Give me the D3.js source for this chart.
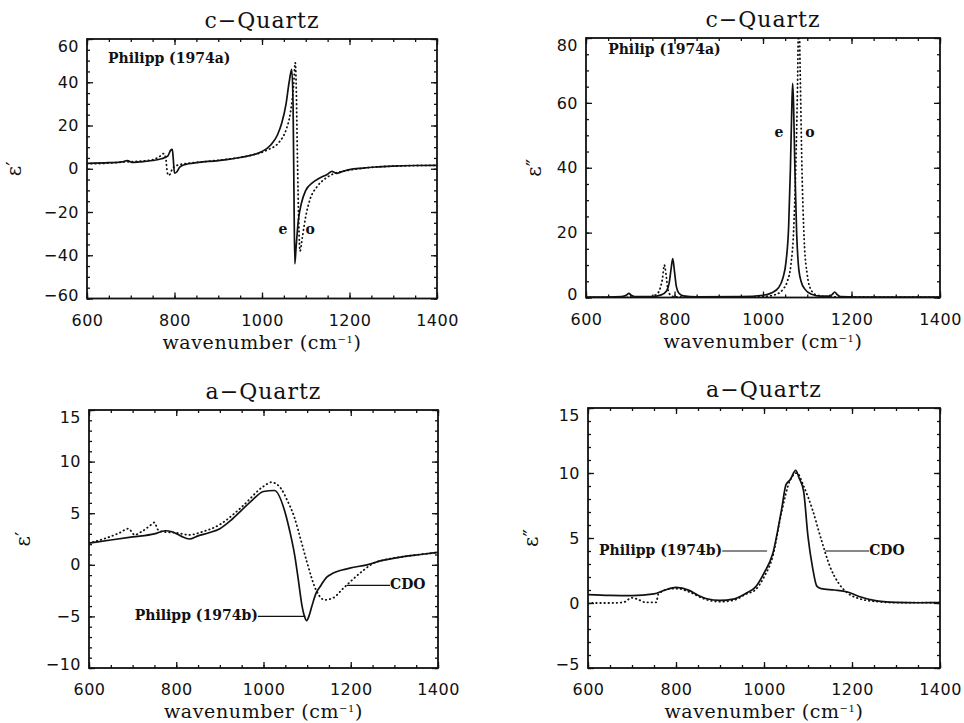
<!DOCTYPE html>
<html lang="en">
<head>
  <meta charset="UTF-8">
  <title>Quartz dielectric function</title>
  <script src="https://cdn.jsdelivr.net/npm/d3@7"></script>
  <style>
    body { margin: 0; background: #fff; }
  </style>
</head>
<body>
<svg id="chart" width="964" height="723"></svg>
<script>
// ---- data: [wavenumber (cm-1), value] ----
// c-Quartz, eps' (Philipp 1974a), e and o rays
var cqReE = [[600,2.5],[650,2.8],[680,3.2],[692,3.8],[698,3.4],[702,2.9],[720,3.2],[750,3.8],[770,4.6],[785,6],[791,8.5],[795,9],[797,5],[800,-2],[805,-1.5],[812,0.8],[825,2],[850,2.8],[900,3.8],[950,5.2],[1000,8],[1020,11],[1035,15.5],[1045,21],[1055,30],[1062,40],[1068,46],[1071,30],[1073,-10],[1075,-44],[1078,-36],[1083,-24],[1090,-16],[1100,-10],[1115,-6.5],[1130,-4.5],[1150,-2.5],[1160,-1.2],[1165,-1.6],[1170,-2.1],[1185,-1.2],[1200,-0.4],[1230,0.3],[1260,0.8],[1300,1.2],[1350,1.5],[1400,1.6]];
var cqReO = [[600,2.3],[650,2.6],[690,3.2],[700,3.3],[740,3.8],[765,5.5],[775,7],[780,5],[783,-1],[786,-3],[790,-2.5],[795,0],[805,1.5],[830,2.5],[870,3.3],[920,4.4],[970,6],[1010,8.5],[1040,12.5],[1055,18],[1065,26],[1072,38],[1076,49],[1078,40],[1081,5],[1084,-25],[1087,-38],[1092,-32],[1100,-22],[1110,-14],[1125,-8.5],[1145,-4.5],[1165,-2.2],[1190,-1],[1220,0],[1260,0.8],[1300,1.2],[1400,1.6]];
// c-Quartz, eps''
var cqImE = [[600,0.1],[680,0.3],[692,0.8],[697,1.3],[702,0.7],[710,0.3],[750,0.3],[770,0.8],[782,2],[788,4.5],[792,8.5],[796,12],[800,8],[804,3.5],[810,1.3],[820,0.5],[850,0.2],[950,0.3],[1000,0.7],[1020,1.5],[1035,3],[1045,6],[1052,11],[1058,22],[1062,40],[1065,58],[1067,66],[1069,60],[1072,40],[1076,20],[1080,10],[1086,5],[1095,2.5],[1110,1],[1130,0.4],[1150,0.4],[1157,1],[1162,1.7],[1167,1],[1175,0.3],[1250,0.1],[1400,0.1]];
var cqImO = [[600,0],[740,0.1],[760,1],[768,3],[773,6],[777,10],[781,7],[785,2.5],[792,0.6],[800,0.2],[900,0.1],[1000,0.3],[1030,1],[1045,2.5],[1055,5],[1063,10],[1069,20],[1074,40],[1078,65],[1081,90],[1084,70],[1088,40],[1093,18],[1100,7],[1108,2.5],[1120,0.8],[1150,0.2],[1400,0.1]];
// a-Quartz, eps' : Philipp (1974b) solid, CDO dotted
var aqReP = [[600,2.1],[650,2.4],[700,2.7],[750,3.0],[775,3.3],[790,3.2],[810,2.8],[830,2.5],[850,2.8],[875,3.1],[900,3.5],[925,4.3],[950,5.3],[975,6.3],[1000,7.1],[1025,7.2],[1050,5.0],[1060,3.3],[1072,0.8],[1080,-1.5],[1088,-3.9],[1094,-5],[1099,-5.4],[1104,-5],[1111,-4],[1120,-2.8],[1130,-2.1],[1145,-1.2],[1160,-0.8],[1180,-0.5],[1200,-0.3],[1237,0],[1270,0.4],[1314,0.75],[1360,1.0],[1400,1.2]];
var aqReC = [[600,2.1],[640,2.6],[670,3.1],[690,3.5],[705,2.9],[720,3.2],[740,3.8],[750,4.1],[758,3.4],[770,3.2],[800,3.1],[830,2.9],[860,3.2],[900,3.9],[950,5.6],[1000,7.6],[1018,8.0],[1040,7.4],[1055,6.2],[1070,4.7],[1085,2.5],[1100,0.2],[1120,-2.4],[1140,-3.4],[1160,-3.2],[1180,-2.4],[1200,-1.6],[1230,-0.5],[1250,0.1],[1280,0.5],[1314,0.75],[1360,1.0],[1400,1.2]];
// a-Quartz, eps''
var aqImP = [[600,0.64],[650,0.58],[700,0.56],[750,0.7],[775,1.0],[800,1.2],[830,0.97],[850,0.6],[870,0.33],[900,0.2],[930,0.3],[960,0.77],[980,1.2],[1000,2.3],[1020,3.8],[1040,7.2],[1050,9.1],[1060,9.5],[1072,10.2],[1080,9.6],[1090,8.6],[1100,5.1],[1110,2.8],[1120,1.3],[1130,1.1],[1160,1.0],[1190,0.85],[1220,0.46],[1250,0.2],[1300,0.05],[1350,0.02],[1400,0.03]];
var aqImC = [[600,0],[650,0],[680,0.05],[700,0.4],[715,0.25],[730,0.05],[755,0.05],[760,0.7],[790,1.1],[805,1.1],[830,0.85],[870,0.25],[900,0.1],[930,0.2],[960,0.7],[980,1.0],[1000,2.0],[1020,3.6],[1040,7.0],[1060,9.5],[1075,10.0],[1090,9.0],[1110,7.2],[1130,4.9],[1150,2.8],[1170,1.5],[1190,0.77],[1220,0.3],[1260,0.1],[1300,0.03],[1400,0.02]];

// tick values
var xTicks = [600, 800, 1000, 1200, 1400];
var yTicksCqRe = [-60, -40, -20, 0, 20, 40, 60];
var yTicksCqIm = [0, 20, 40, 60, 80];
var yTicksAqRe = [-10, -5, 0, 5, 10, 15];
var yTicksAqIm = [-5, 0, 5, 10, 15];

// panel layout
var panels = [
  { left: 87, right: 437, top: 39, bottom: 298.5, ydom: [-60, 60], yTicks: yTicksCqRe, yMinor: 5,
    title: 'c\u2212Quartz', ylab: '\u03b5\u2032', ylabX: 14,
    solid: cqReE, dotted: cqReO,
    notes: [{ t: 'Philipp (1974a)', x: 648, y: 49, anchor: 'start' },
            { t: 'e', x: 1048, y: -30, anchor: 'middle' },
            { t: 'o', x: 1110, y: -30, anchor: 'middle' }] },
  { left: 586, right: 940, top: 38, bottom: 297.5, ydom: [0, 80], yTicks: yTicksCqIm, yMinor: 5,
    title: 'c\u2212Quartz', ylab: '\u03b5\u2033', ylabX: 534,
    solid: cqImE, dotted: cqImO,
    notes: [{ t: 'Philip (1974a)', x: 650, y: 75, anchor: 'start' },
            { t: 'e', x: 1036, y: 49.5, anchor: 'middle' },
            { t: 'o', x: 1106, y: 49.5, anchor: 'middle' }] },
  { left: 89, right: 438, top: 410, bottom: 668, ydom: [-10, 15], yTicks: yTicksAqRe, yMinor: 1,
    title: 'a\u2212Quartz', ylab: '\u03b5\u2032', ylabX: 23,
    solid: aqReP, dotted: aqReC,
    notes: [{ t: 'Philipp (1974b)', x: 987, y: -5.35, anchor: 'end', line: [987, 1096, -5] },
            { t: 'CDO', x: 1290, y: -2.35, anchor: 'start', line: [1191, 1290, -2] }] },
  { left: 588, right: 940, top: 408, bottom: 668, ydom: [-5, 15], yTicks: yTicksAqIm, yMinor: 1,
    title: 'a\u2212Quartz', ylab: '\u03b5\u2033', ylabX: 531,
    solid: aqImP, dotted: aqImC,
    notes: [{ t: 'Philipp (1974b)', x: 905, y: 3.72, anchor: 'end', line: [905, 1007, 4] },
            { t: 'CDO', x: 1239, y: 3.72, anchor: 'start', line: [1139, 1239, 4] }] }
];

var svg = d3.select('#chart');
var serif = '"DejaVu Serif", serif';
var sans = '"DejaVu Sans", sans-serif';

panels.forEach(function(p, i) {
  var x = d3.scaleLinear().domain([600, 1400]).range([p.left, p.right]);
  var y = d3.scaleLinear().domain(p.ydom).range([p.bottom, p.top]);
  var g = svg.append('g');
  var w = p.right - p.left, h = p.bottom - p.top;

  g.append('clipPath').attr('id', 'clip' + i)
    .append('rect').attr('x', p.left).attr('y', p.top).attr('width', w).attr('height', h);

  // minor ticks (all four sides) and unlabelled major ticks on top/right
  var xMinor = d3.range(600, 1401, 50);
  var yMinor = d3.range(p.ydom[0], p.ydom[1] + 0.001, p.yMinor);
  function tickAxis(ax, pos, vals, len) {
    var a = g.append('g').attr('transform', pos)
      .call(ax.tickValues(vals).tickSize(-len).tickFormat(''));
    a.select('.domain').remove();
    a.selectAll('.tick line').attr('stroke', '#111').attr('stroke-width', 1.3);
    return a;
  }
  tickAxis(d3.axisBottom(x), 'translate(0,' + p.bottom + ')', xMinor, 3);
  tickAxis(d3.axisTop(x), 'translate(0,' + p.top + ')', xMinor, 3);
  tickAxis(d3.axisLeft(y), 'translate(' + p.left + ',0)', yMinor, 3);
  tickAxis(d3.axisRight(y), 'translate(' + p.right + ',0)', yMinor, 3);
  tickAxis(d3.axisTop(x), 'translate(0,' + p.top + ')', xTicks, 6);
  tickAxis(d3.axisRight(y), 'translate(' + p.right + ',0)', p.yTicks, 6);

  // labelled axes
  var xa = g.append('g').attr('transform', 'translate(0,' + p.bottom + ')')
    .call(d3.axisBottom(x).tickValues(xTicks).tickSize(-6).tickPadding(16).tickFormat(d3.format('d')));
  var ya = g.append('g').attr('transform', 'translate(' + p.left + ',0)')
    .call(d3.axisLeft(y).tickValues(p.yTicks).tickSize(-6).tickPadding(8));
  [xa, ya].forEach(function(a) {
    a.select('.domain').remove();
    a.selectAll('.tick line').attr('stroke', '#111').attr('stroke-width', 1.3);
    a.selectAll('.tick text').attr('fill', '#111')
      .style('font-family', sans).style('font-size', '16px').style('letter-spacing', '0.5px');
  });
  // IDL pulls the end labels inside the frame
  ya.selectAll('.tick text').attr('dy', function(d) {
    if (d === p.ydom[1]) return '0.75em';
    if (d === p.ydom[0]) return '0.1em';
    return '0.32em';
  });

  // frame
  g.append('rect').attr('x', p.left).attr('y', p.top).attr('width', w).attr('height', h)
    .attr('fill', 'none').attr('stroke', '#111').attr('stroke-width', 1.8);

  // curves
  var line = d3.line().x(function(d) { return x(d[0]); }).y(function(d) { return y(d[1]); })
    .curve(d3.curveMonotoneX);
  var curves = g.append('g').attr('clip-path', 'url(#clip' + i + ')');
  curves.append('path').datum(p.dotted).attr('d', line)
    .attr('fill', 'none').attr('stroke', '#111').attr('stroke-width', 1.8)
    .attr('stroke-linecap', 'round').attr('stroke-dasharray', '0.5,3.6');
  curves.append('path').datum(p.solid).attr('d', line)
    .attr('fill', 'none').attr('stroke', '#111').attr('stroke-width', 1.7)
    .attr('stroke-linejoin', 'round');

  // annotations
  p.notes.forEach(function(n) {
    if (n.line) {
      g.append('line').attr('x1', x(n.line[0])).attr('x2', x(n.line[1]))
        .attr('y1', y(n.line[2])).attr('y2', y(n.line[2]))
        .attr('stroke', '#111').attr('stroke-width', 1.2);
    }
    g.append('text').attr('x', x(n.x)).attr('y', y(n.y)).attr('text-anchor', n.anchor)
      .attr('fill', '#111').style('font-family', serif).style('font-weight', 'bold')
      .style('font-size', '14px').text(n.t);
  });

  // titles
  g.append('text').attr('x', (p.left + p.right) / 2).attr('y', p.top - 11)
    .attr('text-anchor', 'middle').attr('fill', '#111')
    .style('font-family', serif).style('font-size', '22px').style('letter-spacing', '1px')
    .text(p.title);

  var xl = g.append('text').attr('x', (p.left + p.right) / 2).attr('y', p.bottom + 50)
    .attr('text-anchor', 'middle').attr('fill', '#111')
    .style('font-family', serif).style('font-size', '19px').style('letter-spacing', '0.6px');
  xl.append('tspan').text('wavenumber (cm');
  xl.append('tspan').attr('dy', -6).style('font-size', '10px').text('\u22121');
  xl.append('tspan').attr('dy', 6).text(')');

  g.append('text')
    .attr('transform', 'translate(' + p.ylabX + ',' + ((p.top + p.bottom) / 2) + ') rotate(-90)')
    .attr('text-anchor', 'middle').attr('dy', '0.35em').attr('fill', '#111')
    .style('font-family', serif).style('font-size', '20px').text(p.ylab);
});
</script>
</body>
</html>
